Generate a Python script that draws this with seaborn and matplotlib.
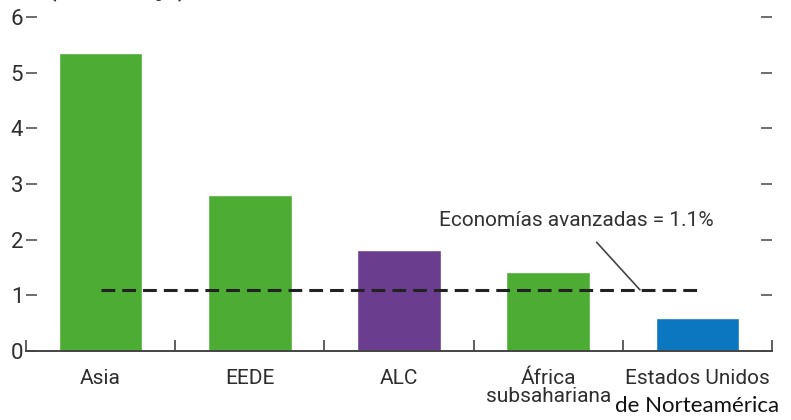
import matplotlib
matplotlib.use("Agg")
import matplotlib.pyplot as plt
import seaborn as sns
import pandas as pd

# Data
regions = ["Asia", "EEDE", "ALC", "África\nsubsahariana", "Estados Unidos"]
values = [5.35, 2.8, 1.81, 1.42, 0.59]
bar_colors = ["#4DAC33", "#4DAC33", "#6A3D8F", "#4DAC33", "#0A77C0"]
advanced_avg = 1.1
y_ticks = [0, 1, 2, 3, 4, 5, 6]

sns.set_theme(style="white")
plt.rcParams["font.family"] = ["Roboto", "DejaVu Sans"]

df = pd.DataFrame({"region": regions, "value": values})

fig = plt.figure(figsize=(7.91, 4.20), dpi=100)
ax = fig.add_axes([0.0329, 0.164, 0.9431, 0.7955])

sns.barplot(data=df, x="region", y="value", hue="region", palette=bar_colors,
            width=0.56, legend=False, saturation=1, ax=ax)

ax.set_xlim(-0.5, len(regions) - 0.5)
ax.set_ylim(0, 6)
ax.set_xlabel("")
ax.set_ylabel("")

# Dashed reference line for advanced economies
ax.plot([0, len(regions) - 1], [advanced_avg, advanced_avg], color="#222222",
        lw=2.2, dashes=(4.5, 2.3), zorder=3)
ax.annotate(f"Economías avanzadas = {advanced_avg}%",
            xy=(3.615, advanced_avg), xytext=(3.19, 2.35),
            fontsize=15, color="#333333", ha="center", va="center",
            arrowprops=dict(arrowstyle="-", color="#444444", lw=1.2,
                            shrinkA=9, shrinkB=0))

# Spines and ticks
for s in ["top", "left", "right"]:
    ax.spines[s].set_visible(False)
ax.spines["bottom"].set_color("#444444")
ax.spines["bottom"].set_linewidth(1.4)

ax.set_yticks(y_ticks)
ax.set_yticklabels([str(t) for t in y_ticks])
ax.tick_params(axis="y", which="major", direction="in", length=8, width=1.2,
               color="#555555", labelsize=16, labelcolor="#2e2e2e", pad=2,
               left=True, right=True, labelright=False)

ax.set_xticks(range(len(regions)))
ax.set_xticklabels(regions)
ax.tick_params(axis="x", which="major", length=0, labelsize=15,
               labelcolor="#2e2e2e", pad=13)
ax.set_xticks([i - 0.5 for i in range(len(regions) + 1)], minor=True)
ax.tick_params(axis="x", which="minor", direction="in", length=8, width=1.2,
               color="#444444", bottom=True)
for lbl in ax.get_xticklabels():
    lbl.set_linespacing(0.95)
    lbl.set_va("top")

# Second line of the last category label, set in a different face
ax.text(len(regions) - 1, -0.8, "de Norteamérica", transform=ax.transData,
        ha="center", va="top", fontsize=16, color="#111111",
        family=["Lato", "DejaVu Sans"])

# Unit heading, largely above the figure edge
fig.text(0.06, 1.026, "(Porcentaje)", fontsize=18, fontweight="bold",
         color="#333333", va="center", ha="left")

fig.savefig("out.png", dpi=100)
